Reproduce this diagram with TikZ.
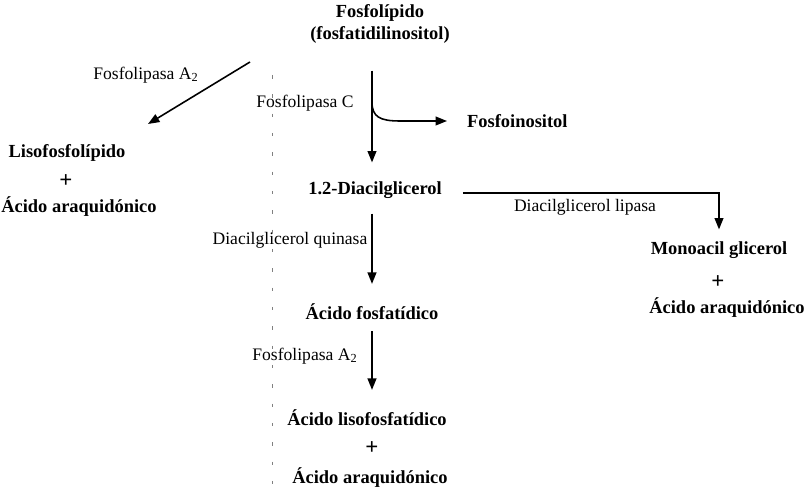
\documentclass[tikz,border=0pt]{standalone}
\usepackage{fontspec}
\setmainfont{Liberation Serif}
\usetikzlibrary{arrows.meta}
\tikzset{
  comp/.style={font=\fontsize{10.5}{12.5}\selectfont\bfseries, align=center, inner sep=1pt},
  suma/.style={font=\fontsize{13}{14}\selectfont\bfseries, inner sep=1pt},
  enz/.style={font=\fontsize{10}{12}\selectfont, inner sep=1pt},
  flecha/.style={-{Triangle[width=5pt,length=6.5pt]}, line width=0.9pt},
}
\begin{document}
\begin{tikzpicture}[x=0.02cm,y=-0.02cm]
    \useasboundingbox (0,0) rectangle (809,492);
    %compuesto inicial
    \node[comp] (fosfo) at (380,24) {Fosfolípido\\(fosfatidilinositol)};
    %rama de la fosfolipasa A2
    \coordinate (a2ini) at (250,62);
    \coordinate (a2fin) at (148,124);
    \draw[flecha] (a2ini) -- (a2fin);
    \node[enz] (fla2) at (146,75) {Fosfolipasa A\textsubscript{2}};
    \node[comp] (liso) at (67,153) {Lisofosfolípido};
    \node[suma] (mas1) at (66,181) {+};
    \node[comp] (araq1) at (79,207) {Ácido araquidónico};
    %fosfolipasa C y fosfoinositol
    \node[comp] (dag) at (375,190) {1.2-Diacilglicerol};
    \draw[flecha, shorten <=0.5cm, shorten >=0.34cm] (fosfo.south -| 372,0) -- (dag.north -| 372,0);
    \node[enz] (flc) at (305,103) {Fosfolipasa C};
    \node[comp, anchor=west] (finos) at (465,121) {Fosfoinositol};
    \coordinate (ramal) at (372,102);
    \draw[flecha] (ramal) .. controls (372,117) and (380,121) .. (400,121) -- ([xshift=-0.36cm]finos.west);
    %rama de la diacilglicerol lipasa
    \node[comp] (mono) at (719,250) {Monoacil glicerol};
    \node[suma] (mas2) at (718,282) {+};
    \node[comp] (araq2) at (727,308) {Ácido araquidónico};
    \draw[flecha, shorten >=0.2cm] ([xshift=0.38cm,yshift=-0.06cm]dag.east) -| (mono.north);
    \node[enz] (dgl) at (585,207) {Diacilglicerol lipasa};
    %rama de la diacilglicerol quinasa
    \node[enz] (dgq) at (290,240) {Diacilglicerol quinasa};
    \node[comp] (acfos) at (372,312) {Ácido fosfatídico};
    \draw[flecha, shorten <=0.26cm, shorten >=0.36cm] (dag.south -| 372,0) -- (acfos.north -| 372,0);
    \node[enz] (fla2b) at (305,356) {Fosfolipasa A\textsubscript{2}};
    \node[comp] (lisofos) at (367,418) {Ácido lisofosfatídico};
    \node[suma] (mas3) at (372,448) {+};
    \node[comp] (araq3) at (370,478) {Ácido araquidónico};
    \draw[flecha, shorten <=0.18cm, shorten >=0.36cm] (acfos.south -| 372,0) -- (lisofos.north -| 372,0);
    %linea punteada
    \draw[gray, thin, dash pattern=on 2pt off 9pt] (272,75) -- (272,492);
\end{tikzpicture}
\end{document}
